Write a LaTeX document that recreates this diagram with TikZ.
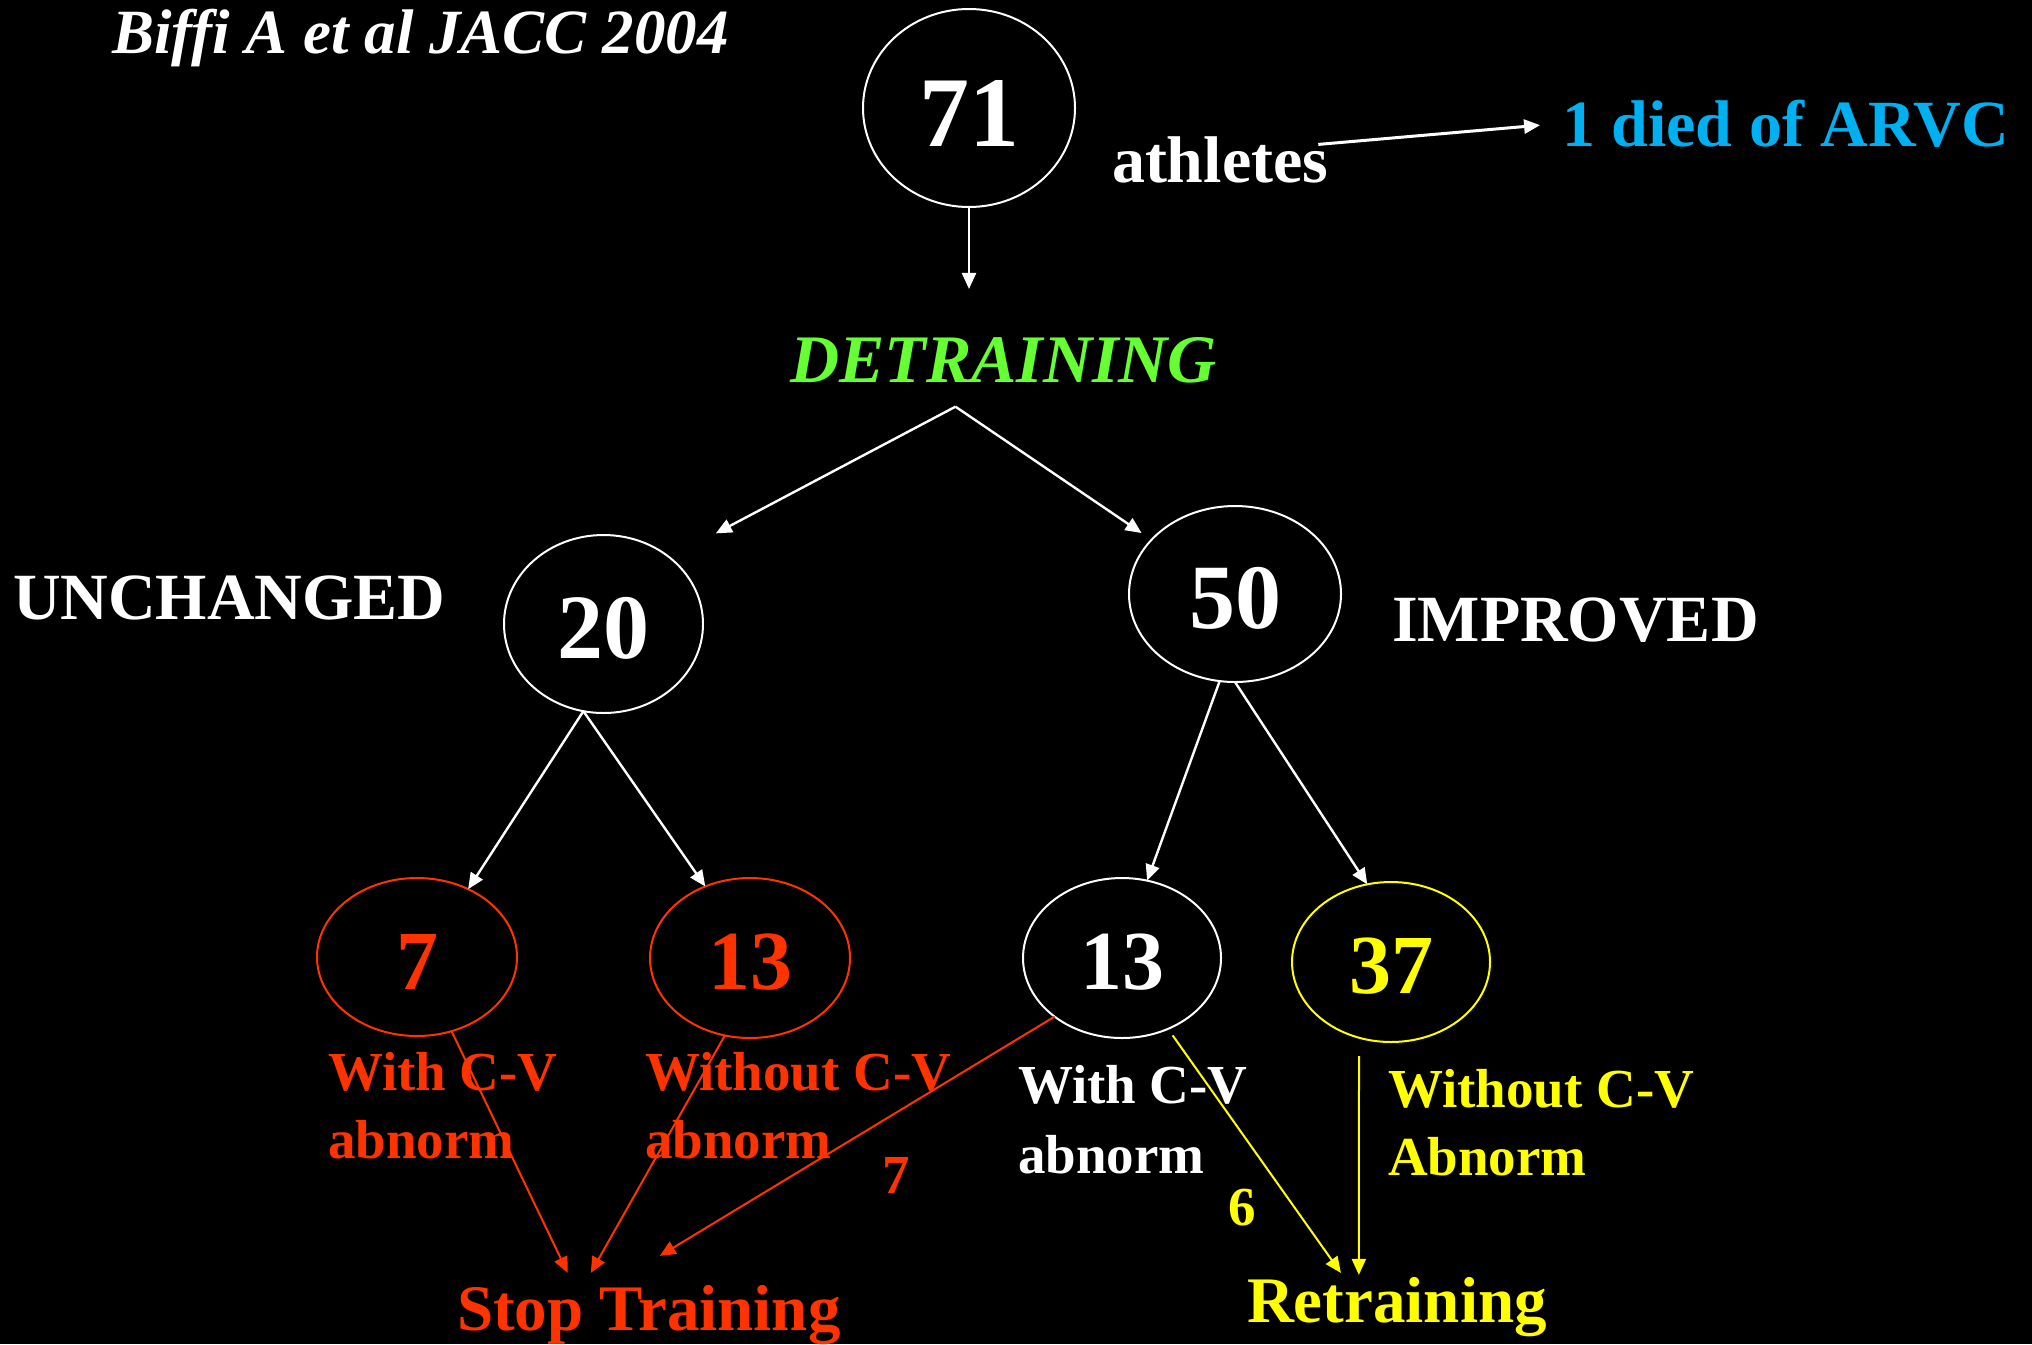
\documentclass[tikz,border=0pt]{standalone}
\usepackage{fontspec}
\setmainfont{Liberation Serif}
\usetikzlibrary{arrows.meta,shapes.geometric}
\definecolor{myred}{RGB}{255,51,0}
\definecolor{myyellow}{RGB}{255,255,0}
\definecolor{mygreen}{RGB}{102,255,51}
\definecolor{mycyan}{RGB}{0,176,240}
\begin{document}
\begin{tikzpicture}[x=0.5pt,y=-0.5pt,
  every node/.style={inner sep=0pt,outer sep=0pt},
  num/.style={ellipse,draw,line width=1pt},
  bignum/.style={num,text height=35pt,font=\bfseries\fontsize{46}{52}\selectfont},
  smallnum/.style={num,text height=32pt,font=\bfseries\fontsize{42}{48}\selectfont},
  txt/.style={anchor=base west,text=white,font=\bfseries\fontsize{33}{40}\selectfont},
  lbl/.style={anchor=base west,font=\bfseries\fontsize{27.5}{34}\selectfont},
  lblw/.style={anchor=base west,font=\bfseries\fontsize{27.5}{35}\selectfont},
  cnt/.style={anchor=base,font=\bfseries\fontsize{27.5}{34}\selectfont},
  dest/.style={anchor=base west,font=\bfseries\fontsize{32.5}{40}\selectfont},
  arr/.style={draw=white,line width=1.2pt,-{Triangle[length=8pt,width=7pt]}},
  rarr/.style={draw=myred,line width=1pt,-{Triangle[length=8pt,width=7pt]}},
  yarr/.style={draw=myyellow,line width=1pt,-{Triangle[length=8pt,width=7pt]}}
]
\fill[black] (0,0) rectangle (2032,1344);
\useasboundingbox (0,0) rectangle (2032,1344);

% header
\node[txt,font=\bfseries\itshape\fontsize{31.5}{38}\selectfont] (ref) at (112,53) {Biffi A et al JACC 2004};

% top
\node[num,draw=white,text=white,minimum width=106pt,minimum height=99pt,text height=38pt,
      font=\bfseries\fontsize{50}{60}\selectfont] (n71) at (969,108) {71};
\node[txt] (athl) at (1112,182) {athletes};
\node[txt,text=mycyan] (died) at (1562,146) {1 died of ARVC};
\node[txt,text=mygreen,font=\bfseries\itshape\fontsize{34}{40}\selectfont] (det) at (790,382) {DETRAINING};

% middle
\node[txt] (unch) at (13,619) {UNCHANGED};
\node[txt] (impr) at (1392,641) {IMPROVED};
\node[bignum,draw=white,text=white,minimum width=99.5pt,minimum height=89pt] (n20) at (603.5,624) {20};
\node[bignum,draw=white,text=white,minimum width=106pt,minimum height=88pt] (n50) at (1235,594) {50};

% bottom ellipses
\node[smallnum,draw=myred,text=myred,minimum width=100pt,minimum height=79pt] (n7) at (417,957) {7};
\node[smallnum,draw=myred,text=myred,minimum width=100pt,minimum height=80pt] (n13a) at (750,958) {13};
\node[smallnum,draw=white,text=white,minimum width=99pt,minimum height=80pt] (n13b) at (1122,958) {13};
\node[smallnum,draw=myyellow,text=myyellow,minimum width=99pt,minimum height=80pt] (n37) at (1391,962) {37};

% labels
\node[lbl,text=myred] (l7) at (328,1090) {\begin{tabular}[t]{@{}l@{}}With C-V\\abnorm\end{tabular}};
\node[lbl,text=myred] (l13a) at (645,1090) {\begin{tabular}[t]{@{}l@{}}Without C-V\\abnorm\end{tabular}};
\node[lblw,text=white] (l13b) at (1018,1103) {\begin{tabular}[t]{@{}l@{}}With C-V\\abnorm\end{tabular}};
\node[lbl,text=myyellow] (l37) at (1388,1107) {\begin{tabular}[t]{@{}l@{}}Without C-V\\Abnorm\end{tabular}};
\node[cnt,text=myred] (k7) at (896,1193) {7};
\node[cnt,text=myyellow] (k6) at (1242,1225) {6};

\node[dest,text=myred] (stop) at (457,1330) {Stop Training};
\node[dest,text=myyellow] (retr) at (1247,1322) {Retraining};

% connectors
\draw[arr,shorten >=24pt] (n71.south) -- (n71.south |- det.north);
\draw[arr,line width=1.5pt,shorten >=11pt] ([xshift=-5pt,yshift=7.5pt]athl.east) -- (died.west);
\coordinate (apex) at ([xshift=-24pt,yshift=-12pt]det.south);
\draw[arr,shorten >=26pt] (apex) -- (n20.45);
\draw[arr,shorten >=6pt] (apex) -- (n50.147);
\draw[arr] (n20.257) -- (n7.53);
\draw[arr] (n20.257) -- (n13a.122);
\draw[arr] (n50.260) -- (n13b.72);
\draw[arr] (n50.south) -- (n37.107);

\draw[rarr] (n7.295) -- ([xshift=-40.5pt,yshift=6pt]stop.north);
\draw[rarr] (n13a.252) -- ([xshift=-29pt,yshift=6pt]stop.north);
\draw[rarr] (n13b.221) -- ([xshift=5.5pt,yshift=14.5pt]stop.north);

\draw[yarr,shorten <=4pt] (n13b.303) -- ([xshift=-28pt,yshift=2pt]retr.north);
\draw[yarr] ([xshift=-16pt,yshift=-7pt]n37.south) -- ([xshift=-19pt,yshift=1pt]retr.north);
\end{tikzpicture}
\end{document}
